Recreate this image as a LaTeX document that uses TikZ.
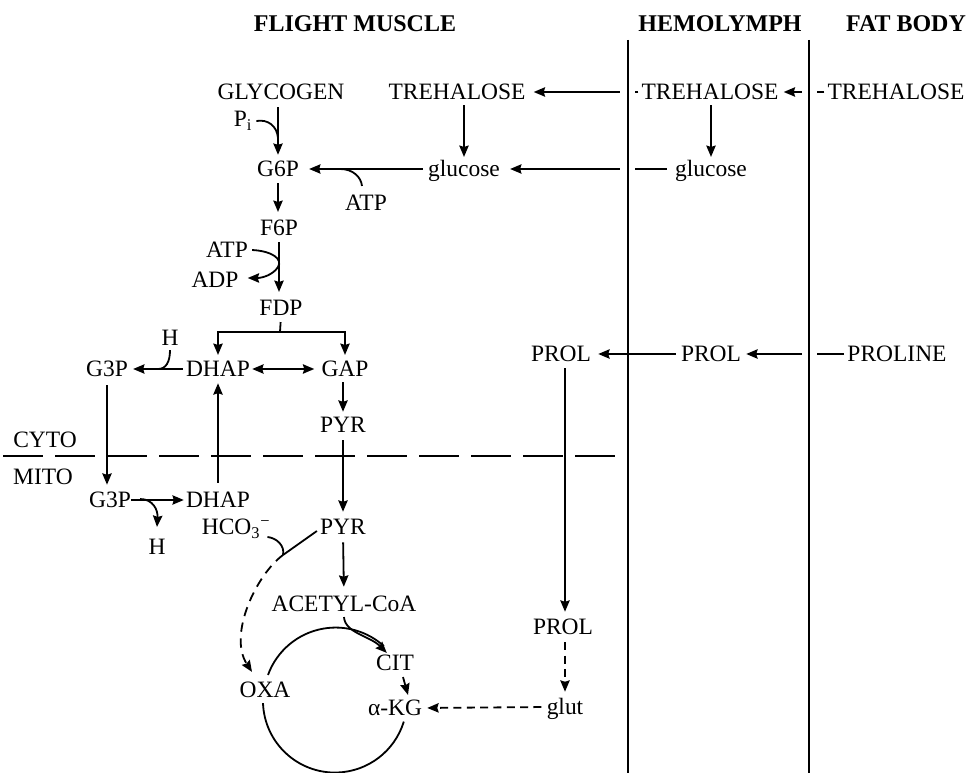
\documentclass[tikz,border=0pt]{standalone}
\usepackage{fontspec}
\setmainfont{Liberation Serif}
\usetikzlibrary{arrows.meta}
\begin{document}
\begin{tikzpicture}[x=0.75pt,y=-0.75pt,
  lbl/.style={inner sep=0pt,text height=11.7pt,text depth=0pt,font=\fontsize{17.6}{20}\selectfont},
  hdr/.style={inner sep=0pt,text height=12pt,text depth=0pt,font=\fontsize{18}{20}\selectfont\bfseries},
  plain/.style={line width=1.35pt},
  tip/.tip={Stealth[length=8.5pt,width=7pt,inset=1pt]},
  flow/.style={line width=1.35pt,-tip},
  dsh/.style={dash pattern=on 6pt off 4pt},
  memb/.style={line width=1.4pt}]
\useasboundingbox (0,0) rectangle (968,773);
% headers
\node[hdr] (hFM) at (355,24) {FLIGHT MUSCLE};
\node[hdr] (hHEM) at (720,24) {HEMOLYMPH};
\node[hdr] (hFAT) at (906,24) {FAT BODY};
% nodes
\node[lbl] (GLY) at (281,92) {GLYCOGEN};
\node[lbl] (TREm) at (457,92) {TREHALOSE};
\node[lbl] (TREh) at (710,92) {TREHALOSE};
\node[lbl] (TREf) at (896,92) {TREHALOSE};
\node[lbl] (Pi) at (243,119) {P\textsubscript{i}};
\node[lbl] (G6P) at (278,169) {G6P};
\node[lbl] (GLUm) at (464,169) {glucose};
\node[lbl] (GLUh) at (711,169) {glucose};
\node[lbl] (ATPa) at (366,203) {ATP};
\node[lbl] (F6P) at (279,228) {F6P};
\node[lbl] (ATPb) at (227,250) {ATP};
\node[lbl] (ADP) at (215,280) {ADP};
\node[lbl] (FDP) at (281,308) {FDP};
\node[lbl] (G3Pc) at (107,369) {G3P};
\node[lbl] (DHAPc) at (218,369) {DHAP};
\node[lbl] (GAP) at (345,369) {GAP};
\node[lbl] (Hc) at (170,338) {H};
\node[lbl] (PYRc) at (343,425) {PYR};
\node[lbl] (CYTO) at (45,440) {CYTO};
\node[lbl] (MITO) at (43,477) {MITO};
\node[lbl] (G3Pm) at (110,500) {G3P};
\node[lbl] (DHAPm) at (218,500) {DHAP};
\node[lbl] (Hm) at (157,547) {H};
\node[lbl] (HCO) at (236,527) {HCO\textsubscript{3}\textsuperscript{−}};
\node[lbl] (PYRm) at (343,527) {PYR};
\node[lbl] (ACoA) at (344,604) {ACETYL-CoA};
\node[lbl] (CIT) at (395,663) {CIT};
\node[lbl] (OXA) at (265,690) {OXA};
\node[lbl] (AKG) at (395,708) {α-KG};
\node[lbl] (PROLm) at (561,354) {PROL};
\node[lbl] (PROLh) at (711,354) {PROL};
\node[lbl] (PROLINE) at (897,354) {PROLINE};
\node[lbl] (PROLm2) at (563,627) {PROL};
\node[lbl] (glut) at (565,707) {glut};
% transport arrows
\draw[flow,shorten <=2.25pt,shorten >=6pt] (TREh.west) -- (TREm.east);
\draw[flow,shorten <=2.25pt,shorten >=3.75pt] (TREf.west) -- (TREh.east);
\draw[flow,shorten <=6pt,shorten >=7.5pt] (GLUh.west) -- (GLUm.east);
\draw[flow,shorten <=3.75pt,shorten >=5.25pt] (PROLh.west) -- (PROLm.east);
\draw[flow,shorten <=2.25pt,shorten >=3.75pt] (PROLINE.west) -- (PROLh.east);
% membrane gaps
\fill[white] (620,85) rectangle (635,99);
\fill[white] (620,162) rectangle (635,176);
\fill[white] (802,85) rectangle (817,99);
\fill[white] (802,347) rectangle (817,361);
% membranes
\coordinate (m1t) at (628,40); \coordinate (m1b) at (628,773);
\coordinate (m2t) at (809,40); \coordinate (m2b) at (809,773);
\draw[memb] (m1t) -- (m1b);
\draw[memb] (m2t) -- (m2b);
% cyto / mito boundary
\coordinate (cmL) at (3,456); \coordinate (cmR) at (615,456);
\draw[plain,dash pattern=on 30pt off 9pt] (cmL) -- (cmR);
% glycolysis
\draw[flow,shorten <=3.75pt,shorten >=3pt] (TREm.south -| GLUm.north) -- (GLUm.north);
\draw[flow,shorten <=3.75pt,shorten >=3pt] (TREh.south -| GLUh.north) -- (GLUh.north);
\draw[flow,shorten <=3.75pt,shorten >=7.5pt] (GLUm.west) -- (G6P.east);
\coordinate (atpJ) at (340,169);
\draw[plain] ([shift={(-4,-9)}]ATPa.north) .. controls (361,177) and (353,169) .. (atpJ);
\draw[flow,shorten <=5.4pt,shorten >=4.6pt] (GLY.south -| G6P.north) -- (G6P.north);
\coordinate (piJ) at (278,138);
\draw[plain] ([shift={(4,2)}]Pi.east) .. controls (268,119) and (277,126) .. (piJ);
\draw[flow,shorten <=4.6pt,shorten >=6pt] (G6P.south) -- (G6P.south |- F6P.north);
\draw[flow,shorten <=4.6pt,shorten >=6pt] (F6P.south) -- (F6P.south |- FDP.north);
\draw[flow] ([shift={(4,0)}]ATPb.east) .. controls (272,251) and (283,259) .. (278,267)
   .. controls (273,275) and (262,278) .. ([shift={(9,-2)}]ADP.east);
\coordinate (fork) at (280,332);
\draw[plain,shorten <=4.5pt] (FDP.south) -- (fork);
\draw[flow,shorten >=4.5pt] (fork) -| (DHAPc.north);
\draw[flow,shorten >=4.5pt] (fork) -| (GAP.north);
\draw[tip-tip,line width=1.35pt,shorten <=1.5pt,shorten >=5.25pt] (DHAPc.east) -- (GAP.west);
\draw[flow,shorten <=2.25pt,shorten >=3.75pt] (DHAPc.west) -- (G3Pc.east);
\coordinate (hJ) at (158,369);
\draw[plain] ([shift={(0,4)}]Hc.south) .. controls (170,362) and (166,369) .. (hJ);
\draw[flow,shorten <=3.9pt,shorten >=3.9pt] (PYRc.north |- GAP.south) -- (PYRc.north);
\draw[flow,shorten <=6pt,shorten >=5.4pt] (G3Pc.south) -- (G3Pc.south |- G3Pm.north);
\draw[flow,shorten <=6.9pt,shorten >=4.65pt] (DHAPm.north) -- (DHAPc.south);
\draw[flow,shorten <=5.4pt,shorten >=5.4pt] (PYRc.south) -- (PYRm.north);
\draw[flow,shorten >=1.5pt] (G3Pm.east) -- (DHAPm.west);
\coordinate (hJm) at (140,499);
\draw[flow] (hJm) .. controls (153,499) and (158,510) .. ([shift={(0,-12)}]Hm.north);
% mitochondrion
\draw[flow,shorten <=5.4pt,shorten >=6.9pt] (PYRm.south) -- (ACoA.north);
\coordinate (pJ) at (283,555);
\draw[plain] ([shift={(-3,4)}]PYRm.west) -- (pJ);
\draw[flow,dash pattern=on 7pt off 5pt] (pJ) .. controls (256,575) and (228,635) .. ([shift={(-13,-10)}]OXA.north);
\draw[plain] ([shift={(-3,10)}]HCO.east) .. controls (277,538) and (285,546) .. (pJ);
\draw[flow] ([shift={(0,5)}]ACoA.south) .. controls (345,633) and (370,636) .. ([shift={(11,-2)}]CIT.north west);
\draw[plain] ([shift={(3,-7)}]OXA.north) arc[start angle=160,end angle=48,radius=54pt];
\draw[plain] ([shift={(-2,5)}]OXA.south) arc[start angle=182,end angle=343,radius=54pt];
\draw[flow] ([shift={(8,6)}]CIT.south) -- ([shift={(13,-5)}]AKG.north);
% proline
\draw[flow,shorten <=4.6pt,shorten >=5.4pt] (PROLm.south -| glut.north) -- (PROLm2.north -| glut.north);
\draw[flow,dsh,shorten <=5.4pt,shorten >=5.4pt] (PROLm2.south -| glut.north) -- (glut.north);
\draw[flow,dsh,shorten <=3.75pt,shorten >=3.75pt] (glut.west) -- (AKG.east);
\end{tikzpicture}
\end{document}
